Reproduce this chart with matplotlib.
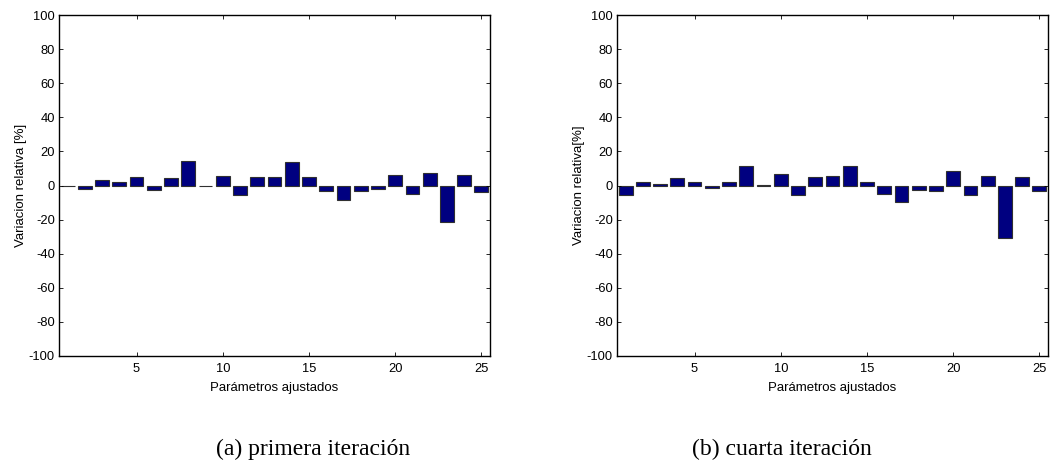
import matplotlib

matplotlib.use("Agg")
import matplotlib.pyplot as plt  # noqa: E402
import numpy as np  # noqa: E402

plt.rcParams["font.family"] = ["Liberation Sans", "DejaVu Sans"]
plt.rcParams["axes.unicode_minus"] = False

# Relative variation of each adjusted parameter [%]
params = np.arange(1, 26)
primera = [0.0, -2.1, 3.0, 2.0, 5.0, -2.7, 4.5, 14.5, -0.4, 5.8,
           -5.6, 5.2, 5.2, 13.8, 5.2, -3.3, -8.3, -3.3, -2.1, 6.4,
           -4.9, 7.2, -21.7, 6.4, -3.7]
cuarta = [-5.6, 2.0, 0.6, 4.3, 2.1, -1.6, 2.1, 11.5, 0.3, 6.8,
          -5.6, 4.7, 5.6, 11.3, 2.1, -5.0, -9.7, -2.7, -3.3, 8.3,
          -5.6, 5.8, -31.0, 5.2, -3.1]

panels = [
    (primera, "Variacion relativa [%]", "(a) primera iteración", 59, 313),
    (cuarta, "Variacion relativa[%]", "(b) cuarta iteración", 617, 782),
]

W, H = 1051, 466
fig = plt.figure(figsize=(W / 100, H / 100), dpi=100)

for vals, ylab, caption, left_px, cap_x in panels:
    ax = fig.add_axes([left_px / W, (H - 356) / H, 431 / W, 341 / H])
    ax.bar(params, vals, width=0.8, color="#000080", edgecolor="#303030", lw=0.8)
    ax.set_xlim(0.5, 25.5)
    ax.set_ylim(-100, 100)
    ax.set_xticks([5, 10, 15, 20, 25])
    ax.set_yticks(np.arange(-100, 101, 20))
    ax.tick_params(direction="in", top=True, right=True, labelsize=9.3,
                   length=3, width=0.6, pad=3)
    ax.tick_params(axis="x", pad=5)
    for s in ax.spines.values():
        s.set_linewidth(1.0)
    ax.set_xlabel("Parámetros ajustados", fontsize=9.5, labelpad=5)
    ax.set_ylabel(ylab, fontsize=9.5, labelpad=1)
    fig.text(cap_x / W, 1 - 449 / H, caption, ha="center", va="center",
             fontsize=17, family=["Liberation Serif", "DejaVu Serif"])

fig.savefig("out.png", dpi=100)
